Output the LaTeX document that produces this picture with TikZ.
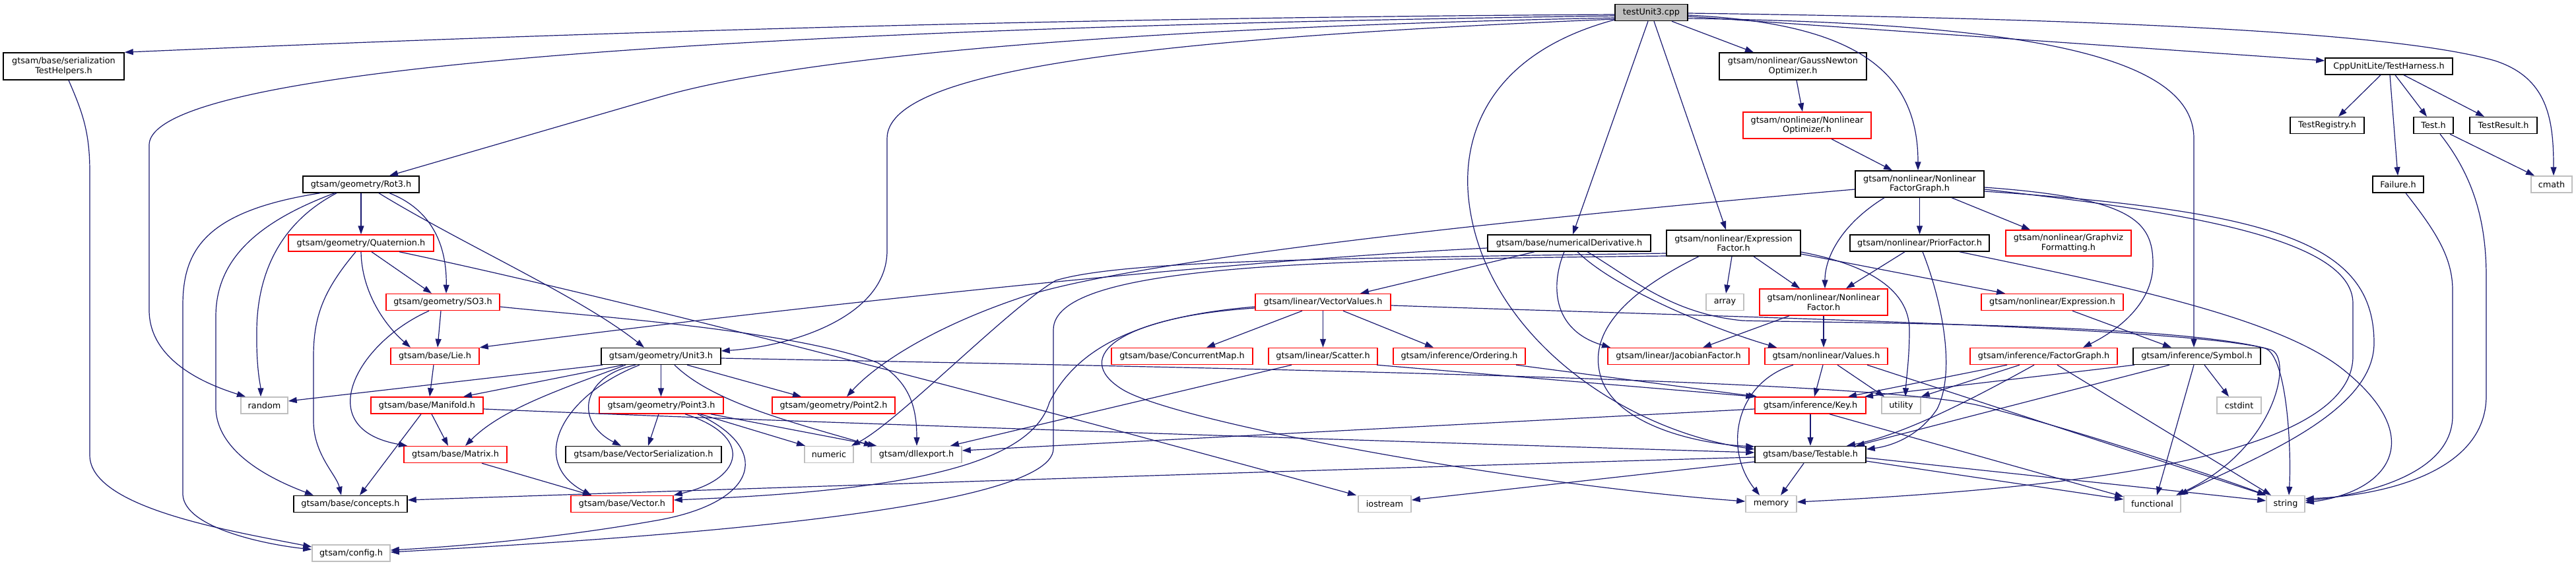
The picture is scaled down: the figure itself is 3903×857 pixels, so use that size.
\documentclass[tikz,border=0pt]{standalone}
\usepackage{fontspec}
\setmainfont{DejaVu Sans}
\usetikzlibrary{arrows.meta}
\definecolor{edgec}{HTML}{191970}
\definecolor{leafc}{HTML}{BFBFBF}
\definecolor{redc}{HTML}{FF0000}
\begin{document}
\begin{tikzpicture}[x=1pt,y=-1pt,
  nbase/.style={rectangle,inner sep=0pt,minimum height=25pt,line width=1.5pt,align=center,font=\fontsize{12.8pt}{14.5pt}\selectfont},
  blk/.style={nbase,draw=black},
  rd/.style={nbase,draw=redc},
  lf/.style={nbase,draw=leafc},
  root/.style={nbase,draw=black,fill=leafc},
  conn/.style={draw=edgec,line width=1.2pt,-{Triangle[length=13pt,width=9pt]}}]
\useasboundingbox (0,0) rectangle (3903,857);
% nodes
\node[root,minimum width=110pt] (main) at (2502,19) {testUnit3.cpp};
\node[blk,minimum width=183pt,minimum height=41pt] (sth) at (96.5,100.5) {gtsam/base/serialization\\TestHelpers.h};
\node[blk,minimum width=223pt,minimum height=41pt] (gn) at (2716.5,100.5) {gtsam/nonlinear/GaussNewton\\Optimizer.h};
\node[blk,minimum width=193pt] (th) at (3619.5,100.5) {CppUnitLite/TestHarness.h};
\node[rd,minimum width=194pt,minimum height=40pt] (nlo) at (2738,190) {gtsam/nonlinear/Nonlinear\\Optimizer.h};
\node[blk,minimum width=112pt] (treg) at (3526,190) {TestRegistry.h};
\node[blk,minimum width=60pt] (test) at (3687,190) {Test.h};
\node[blk,minimum width=102pt] (tres) at (3793,190) {TestResult.h};
\node[blk,minimum width=176pt] (rot3) at (547,279.5) {gtsam/geometry/Rot3.h};
\node[blk,minimum width=195pt,minimum height=40pt] (nfg) at (2908.5,279) {gtsam/nonlinear/Nonlinear\\FactorGraph.h};
\node[blk,minimum width=77pt] (fail) at (3633.5,279.5) {Failure.h};
\node[lf,minimum width=62pt] (cmath) at (3866,279.5) {cmath};
\node[rd,minimum width=220pt] (quat) at (547,368.5) {gtsam/geometry/Quaternion.h};
\node[blk,minimum width=247pt] (nd) at (2377.5,368.5) {gtsam/base/numericalDerivative.h};
\node[blk,minimum width=203pt,minimum height=39pt] (ef) at (2626.5,368.5) {gtsam/nonlinear/Expression\\Factor.h};
\node[blk,minimum width=211pt] (pf) at (2908.5,368.5) {gtsam/nonlinear/PriorFactor.h};
\node[rd,minimum width=190pt,minimum height=39pt] (gvf) at (3134,368.5) {gtsam/nonlinear/Graphviz\\Formatting.h};
\node[rd,minimum width=172pt] (so3) at (671,458) {gtsam/geometry/SO3.h};
\node[rd,minimum width=205pt] (vv) at (2004.5,458) {gtsam/linear/VectorValues.h};
\node[lf,minimum width=57pt] (arr) at (2613.5,458) {array};
\node[rd,minimum width=194pt,minimum height=40pt] (nlf) at (2763,458) {gtsam/nonlinear/Nonlinear\\Factor.h};
\node[rd,minimum width=215pt] (expr) at (3109.5,458) {gtsam/nonlinear/Expression.h};
\node[rd,minimum width=134pt] (lie) at (659,540) {gtsam/base/Lie.h};
\node[blk,minimum width=181pt] (unit3) at (1001.5,540) {gtsam/geometry/Unit3.h};
\node[rd,minimum width=214pt] (cmap) at (1791,540) {gtsam/base/ConcurrentMap.h};
\node[rd,minimum width=165pt] (scat) at (2004.5,540) {gtsam/linear/Scatter.h};
\node[rd,minimum width=200pt] (ord) at (2211,540) {gtsam/inference/Ordering.h};
\node[rd,minimum width=214pt] (jf) at (2543,540) {gtsam/linear/JacobianFactor.h};
\node[rd,minimum width=186pt] (val) at (2767,540) {gtsam/nonlinear/Values.h};
\node[rd,minimum width=223pt] (fg) at (3096.5,540) {gtsam/inference/FactorGraph.h};
\node[blk,minimum width=193pt] (sym) at (3328.5,540) {gtsam/inference/Symbol.h};
\node[lf,minimum width=71pt] (rnd) at (400.5,614.5) {random};
\node[rd,minimum width=170pt] (man) at (647,614.5) {gtsam/base/Manifold.h};
\node[rd,minimum width=188pt] (pt3) at (1002,614.5) {gtsam/geometry/Point3.h};
\node[rd,minimum width=186pt] (pt2) at (1263,614.5) {gtsam/geometry/Point2.h};
\node[rd,minimum width=168pt] (key) at (2743,614.5) {gtsam/inference/Key.h};
\node[lf,minimum width=59pt] (util) at (2880.5,614.5) {utility};
\node[lf,minimum width=67pt] (cst) at (3392.5,614.5) {cstdint};
\node[rd,minimum width=156pt] (mat) at (690,689) {gtsam/base/Matrix.h};
\node[blk,minimum width=236pt] (vser) at (975,689) {gtsam/base/VectorSerialization.h};
\node[lf,minimum width=74pt] (num) at (1256,689) {numeric};
\node[lf,minimum width=137pt] (dll) at (1388.5,689) {gtsam/dllexport.h};
\node[blk,minimum width=168pt] (testable) at (2743,689) {gtsam/base/Testable.h};
\node[blk,minimum width=172pt] (conc) at (531,764) {gtsam/base/concepts.h};
\node[rd,minimum width=155pt] (vec) at (942.5,764) {gtsam/base/Vector.h};
\node[lf,minimum width=80pt] (ios) at (2098,764) {iostream};
\node[lf,minimum width=77pt] (mem) at (2683.5,764) {memory};
\node[lf,minimum width=86pt] (func) at (3261,764) {functional};
\node[lf,minimum width=58pt] (str) at (3463,764) {string};
\node[lf,minimum width=118pt] (cfg) at (532,838.5) {gtsam/config.h};
% edges from testUnit3.cpp
\draw[conn] (main.west |- 0,22) .. controls (1400,28) and (588,62) .. (sth.north east);
\draw[conn] (main.west |- 0,24) .. controls (1300,40) and (226,90) .. (226,220) -- (226,470) .. controls (226,550) and (320,585) .. (372,0 |- rnd.north);
\draw[conn] (main.west |- 0,27) .. controls (1700,42) and (1205,87) .. (1000,147) -- (590,0 |- rot3.north);
\draw[conn] (main.west |- 0,29) .. controls (1700,60) and (1344,110) .. (1344,210) -- (1344,380) .. controls (1344,480) and (1200,525) .. (unit3.east |- 0,532);
\draw[conn] (2497,0 |- main.south) -- (2383,0 |- nd.north);
\draw[conn] (2506,0 |- main.south) -- (2615,0 |- ef.north);
\draw[conn] (2533,0 |- main.south) -- (2657,0 |- gn.north);
\draw[conn] (main.east |- 0,23) .. controls (2800,35) and (2906,100) .. (2906,0 |- nfg.north);
\draw[conn] (main.west |- 0,30) .. controls (2260,80) and (2215,200) .. (2225,300) .. controls (2245,500) and (2450,650) .. (testable.west |- 0,681);
\draw[conn] (main.east |- 0,28) .. controls (3050,35) and (3324,80) .. (3324,210) -- (3324,0 |- sym.north);
\draw[conn] (main.east |- 0,25) -- (th.west |- 0,92);
\draw[conn] (main.east |- 0,20) .. controls (3300,30) and (3650,55) .. (3780,92) .. controls (3860,118) and (3869,180) .. (3869,0 |- cmath.north);
% serialization helpers
\draw[conn] (104,0 |- sth.south) .. controls (125,170) and (136,200) .. (136,260) -- (136,690) .. controls (136,770) and (350,805) .. (cfg.west |- 0,829);
% Rot3
\draw[conn] (485,0 |- rot3.south) .. controls (310,320) and (278,380) .. (277,460) -- (277,750) .. controls (280,800) and (400,825) .. (cfg.west |- 0,833);
\draw[conn] (507,0 |- rot3.south) .. controls (380,340) and (327,400) .. (327,480) -- (327,620) .. controls (330,690) and (420,730) .. (475,0 |- conc.north);
\draw[conn] (510,0 |- rot3.south) .. controls (420,340) and (390,420) .. (389,500) .. controls (388,560) and (395,585) .. (395,0 |- rnd.north);
\draw[conn] (rot3.south) -- (quat.north);
\draw[conn] (574,0 |- rot3.south) .. controls (700,370) and (880,450) .. (976,0 |- unit3.north);
\draw[conn] (590,0 |- rot3.south) .. controls (660,320) and (677,380) .. (676,0 |- so3.north);
% Quaternion
\draw[conn] (563,0 |- quat.south) -- (654,0 |- so3.north);
\draw[conn] (547,0 |- quat.south) .. controls (548,440) and (580,490) .. (622,0 |- lie.north);
\draw[conn] (539,0 |- quat.south) .. controls (490,440) and (475,480) .. (475,540) -- (475,640) .. controls (476,690) and (510,720) .. (517,0 |- conc.north);
\draw[conn] (605,0 |- quat.south) .. controls (1000,465) and (1650,640) .. (2055,0 |- ios.north);
% SO3
\draw[conn] (650,0 |- so3.south) .. controls (540,520) and (470,650) .. (617,0 |- mat.north);
\draw[conn] (668,0 |- so3.south) -- (663,0 |- lie.north);
\draw[conn] (so3.east |- 0,465) .. controls (900,480) and (1200,500) .. (1330,550) .. controls (1380,580) and (1389,620) .. (1389,0 |- dll.north);
% Lie, Manifold
\draw[conn] (657,0 |- lie.south) -- (651,0 |- man.north);
\draw[conn] (654,0 |- man.south) -- (679,0 |- mat.north);
\draw[conn] (638,0 |- man.south) -- (545,0 |- conc.north);
\draw[conn] (man.east |- 0,620) .. controls (1200,640) and (2200,672) .. (testable.west |- 0,686);
% Unit3
\draw[conn] (913,0 |- unit3.south) -- (rnd.east |- 0,608);
\draw[conn] (944,0 |- unit3.south) -- (702,0 |- man.north);
\draw[conn] (948,0 |- unit3.south) .. controls (850,590) and (760,620) .. (705,0 |- mat.north);
\draw[conn] (963,0 |- unit3.south) .. controls (880,570) and (870,640) .. (941,0 |- vser.north);
\draw[conn] (969,0 |- unit3.south) .. controls (850,600) and (800,700) .. (896,0 |- vec.north);
\draw[conn] (unit3.south) -- (unit3.south |- pt3.north);
\draw[conn] (1041,0 |- unit3.south) -- (1214,0 |- pt2.north);
\draw[conn] (1022,0 |- unit3.south) .. controls (1080,610) and (1200,640) .. (1322,0 |- dll.north);
\draw[conn] (unit3.east |- 0,543) .. controls (2000,560) and (2850,578) .. (3000,615) .. controls (3150,652) and (3380,730) .. (str.north west);
% Point3
\draw[conn] (998,0 |- pt3.south) -- (982,0 |- vser.north);
\draw[conn] (1038,0 |- pt3.south) .. controls (1140,660) and (1130,725) .. (vec.north east);
\draw[conn] (1057,0 |- pt3.south) .. controls (1170,680) and (1150,760) .. (1000,788) .. controls (850,815) and (700,828) .. (cfg.east |- 0,834);
\draw[conn] (1061,0 |- pt3.south) -- (1220,0 |- num.north);
\draw[conn] (1077,0 |- pt3.south) -- (1328,0 |- dll.north);
% Matrix
\draw[conn] (730,0 |- mat.south) -- (896,0 |- vec.north);
% Testable
\draw[conn] (testable.west |- 0,693) .. controls (2000,712) and (1000,745) .. (conc.east |- 0,758);
\draw[conn] (testable.west |- 0,700) -- (ios.east |- 0,758);
\draw[conn] (2733,0 |- testable.south) -- (2698,0 |- mem.north);
\draw[conn] (testable.east |- 0,699) -- (func.west |- 0,757);
\draw[conn] (testable.east |- 0,694) -- (str.west |- 0,759);
% Key
\draw[conn] (key.south) -- (testable.north);
\draw[conn] (key.west |- 0,620) -- (dll.east |- 0,683);
\draw[conn] (2772,0 |- key.south) -- (func.west |- 0,753);
% Values
\draw[conn] (2717,0 |- val.south) .. controls (2630,580) and (2610,680) .. (2666,0 |- mem.north);
\draw[conn] (2762,0 |- val.south) -- (2749,0 |- key.north);
\draw[conn] (2784,0 |- val.south) -- (2855,0 |- util.north);
\draw[conn] (2829,0 |- val.south) -- (str.north west);
% NonlinearFactor
\draw[conn] (2711,0 |- nlf.south) -- (2580,0 |- jf.north);
\draw[conn] (nlf.south) -- (nlf.south |- val.north);
% VectorValues
\draw[conn] (1973,0 |- vv.south) -- (1828,0 |- cmap.north);
\draw[conn] (vv.south) -- (vv.south |- scat.north);
\draw[conn] (2035,0 |- vv.south) -- (2172,0 |- ord.north);
\draw[conn] (vv.west |- 0,465) .. controls (1720,480) and (1630,530) .. (1590,610) .. controls (1560,710) and (1350,745) .. (vec.east |- 0,758);
\draw[conn] (vv.west |- 0,467) .. controls (1700,480) and (1620,540) .. (1700,590) .. controls (1780,640) and (2300,735) .. (mem.west |- 0,760);
\draw[conn] (vv.east |- 0,463) .. controls (2600,480) and (3300,495) .. (3432,528) .. controls (3465,540) and (3472,680) .. (3468,0 |- str.north);
% Scatter, Ordering
\draw[conn] (2086,0 |- scat.south) -- (key.north west);
\draw[conn] (1957,0 |- scat.south) -- (1440,0 |- dll.north);
\draw[conn] (2297,0 |- ord.south) -- (2662,0 |- key.north);
% FactorGraph
\draw[conn] (3041,0 |- fg.south) -- (2800,0 |- key.north);
\draw[conn] (3060,0 |- fg.south) -- (util.north east);
\draw[conn] (3082,0 |- fg.south) .. controls (2980,610) and (2880,660) .. (2798,0 |- testable.north);
\draw[conn] (3117,0 |- fg.south) -- (3441,0 |- str.north);
% Symbol
\draw[conn] (3234,0 |- sym.south) -- (2825,0 |- key.north);
\draw[conn] (3287,0 |- sym.south) -- (2812,0 |- testable.north);
\draw[conn] (3324,0 |- sym.south) -- (3268,0 |- func.north);
\draw[conn] (3340,0 |- sym.south) -- (3377,0 |- cst.north);
% Expression
\draw[conn] (3140,0 |- expr.south) -- (3290,0 |- sym.north);
% ExpressionFactor
\draw[conn] (2624,0 |- ef.south) -- (2615,0 |- arr.north);
\draw[conn] (2657,0 |- ef.south) -- (2727,0 |- nlf.north);
\draw[conn] (ef.east |- 0,385) -- (3038,0 |- expr.north);
\draw[conn] (ef.east |- 0,382) .. controls (2850,405) and (2893,450) .. (2893,500) .. controls (2893,545) and (2888,575) .. (2887,0 |- util.north);
\draw[conn] (2574,0 |- ef.south) .. controls (2470,440) and (2405,500) .. (2425,570) .. controls (2445,640) and (2560,672) .. (testable.west |- 0,677);
\draw[conn] (ef.west |- 0,384) .. controls (2000,392) and (1700,395) .. (1600,425) .. controls (1530,465) and (1360,640) .. (1290,0 |- num.north);
\draw[conn] (ef.west |- 0,388) .. controls (2000,394) and (1596,400) .. (1596,500) -- (1596,680) .. controls (1596,780) and (900,820) .. (cfg.east |- 0,837);
% numericalDerivative
\draw[conn] (nd.west |- 0,376) .. controls (1800,398) and (1100,478) .. (lie.north east);
\draw[conn] (2325,0 |- nd.south) -- (2061,0 |- vv.north);
\draw[conn] (2370,0 |- nd.south) .. controls (2350,430) and (2350,500) .. (2440,0 |- jf.north);
\draw[conn] (2390,0 |- nd.south) .. controls (2450,440) and (2600,500) .. (2692,0 |- val.north);
\draw[conn] (2405,0 |- nd.south) .. controls (2470,420) and (2530,475) .. (2640,486) .. controls (2800,490) and (3300,490) .. (3440,530) .. controls (3475,540) and (3450,680) .. (3297,0 |- func.north);
% NonlinearFactorGraph
\draw[conn] (nfg.west |- 0,287) .. controls (2200,340) and (1700,400) .. (1550,450) .. controls (1400,500) and (1320,560) .. (1283,0 |- pt2.north);
\draw[conn] (2855,0 |- nfg.south) .. controls (2790,340) and (2765,390) .. (2765,0 |- nlf.north);
\draw[conn] (nfg.south) -- (nfg.south |- pf.north);
\draw[conn] (2957,0 |- nfg.south) -- (3076,0 |- gvf.north);
\draw[conn] (nfg.east |- 0,284) .. controls (3230,300) and (3262,335) .. (3262,400) .. controls (3262,470) and (3190,510) .. (3156,0 |- fg.north);
\draw[conn] (nfg.east |- 0,287) .. controls (3300,320) and (3565,360) .. (3565,460) -- (3565,540) .. controls (3565,700) and (3100,742) .. (mem.east |- 0,761);
\draw[conn] (nfg.east |- 0,290) .. controls (3450,320) and (3597,370) .. (3597,520) .. controls (3597,630) and (3400,700) .. (3302,0 |- func.north);
% PriorFactor
\draw[conn] (2886,0 |- pf.south) -- (2797,0 |- nlf.north);
\draw[conn] (2913,0 |- pf.south) .. controls (2940,450) and (2965,560) .. (2935,620) .. controls (2905,665) and (2860,677) .. (testable.east |- 0,681);
\draw[conn] (2969,0 |- pf.south) .. controls (3200,430) and (3450,480) .. (3550,560) .. controls (3680,664) and (3620,745) .. (str.east |- 0,762);
% optimizers
\draw[conn] (2722,0 |- gn.south) -- (2731,0 |- nlo.north);
\draw[conn] (2775,0 |- nlo.south) -- (2867,0 |- nfg.north);
% CppUnitLite
\draw[conn] (3607,0 |- th.south) -- (3543,0 |- treg.north);
\draw[conn] (3621,0 |- th.south) -- (3633,0 |- fail.north);
\draw[conn] (3629,0 |- th.south) -- (3677,0 |- test.north);
\draw[conn] (3642,0 |- th.south) -- (3764,0 |- tres.north);
\draw[conn] (3712,0 |- test.south) -- (3840,0 |- cmath.north);
\draw[conn] (3697,0 |- test.south) .. controls (3750,270) and (3767,340) .. (3767,420) -- (3767,600) .. controls (3767,720) and (3600,752) .. (str.east |- 0,756);
\draw[conn] (3645,0 |- fail.south) .. controls (3690,350) and (3716,390) .. (3716,440) -- (3716,630) .. controls (3716,720) and (3580,750) .. (str.east |- 0,759);
\end{tikzpicture}
\end{document}
